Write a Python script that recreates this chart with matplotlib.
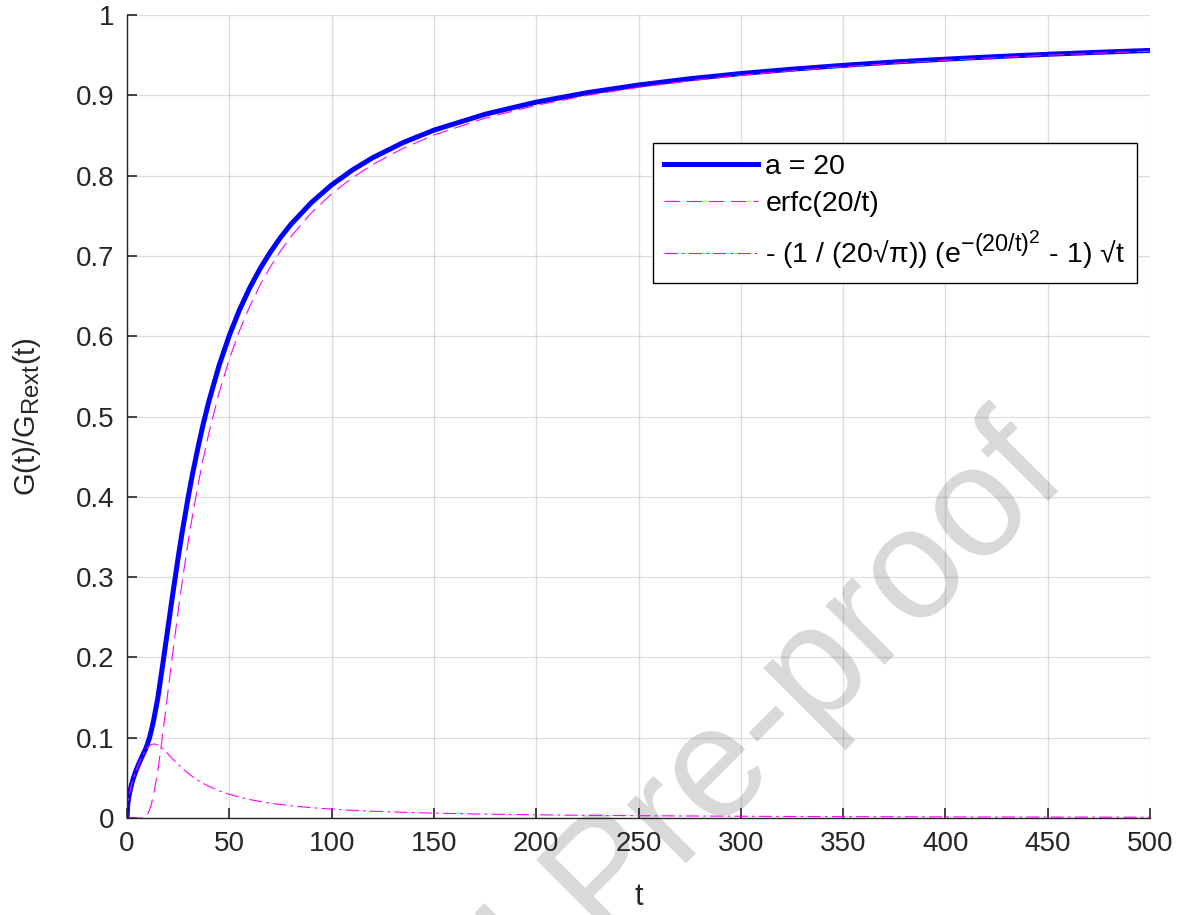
import matplotlib
matplotlib.use("Agg")

import matplotlib.pyplot as plt
import matplotlib._mathtext as mathtext_internals
from matplotlib.font_manager import FontProperties
from matplotlib.patches import PathPatch
from matplotlib.textpath import TextPath
from matplotlib.transforms import Affine2D

plt.rcParams['font.family'] = ['Liberation Sans', 'DejaVu Sans']
plt.rcParams['mathtext.fontset'] = 'custom'
plt.rcParams['mathtext.rm'] = 'Liberation Sans'
plt.rcParams['mathtext.it'] = 'Liberation Sans'
plt.rcParams['lines.scale_dashes'] = False
# MATLAB draws sub/superscripts larger than mathtext does
mathtext_internals.SHRINK_FACTOR = 0.82

# values
t = [0, 0.25, 0.5, 1, 2, 3, 4, 5, 6, 7,
     8, 9, 10, 11, 12, 13, 14, 15, 16, 17,
     18, 19, 20, 22, 25, 27, 30, 32, 35, 37,
     40, 45, 50, 55, 60, 65, 70, 75, 80, 90,
     100, 110, 120, 135, 150, 175, 200, 225, 250, 275,
     300, 325, 350, 375, 400, 425, 450, 475, 500]
g_a20 = [0, 0.0141, 0.0199, 0.0282, 0.0399, 0.0489, 0.0564, 0.0631, 0.0691, 0.0746,
         0.0802, 0.0855, 0.0923, 0.1002, 0.1102, 0.1218, 0.1354, 0.1488, 0.1663, 0.1834,
         0.2010, 0.2190, 0.2370, 0.2730, 0.3246, 0.3568, 0.4012, 0.4284, 0.4652, 0.4881,
         0.5190, 0.5636, 0.6011, 0.6330, 0.6604, 0.6840, 0.7046, 0.7229, 0.7390, 0.7662,
         0.7884, 0.8067, 0.8222, 0.8412, 0.8566, 0.8764, 0.8915, 0.9033, 0.9128, 0.9206,
         0.9271, 0.9325, 0.9373, 0.9415, 0.9450, 0.9482, 0.9511, 0.9536, 0.9559]
g_erfc = [0, 0, 0, 0, 0, 0, 0, 0, 0, 0,
          0.0004, 0.0015, 0.0047, 0.0101, 0.0186, 0.0296, 0.0436, 0.0580, 0.0771, 0.0962,
          0.1161, 0.1366, 0.1573, 0.1986, 0.2579, 0.2949, 0.3458, 0.3768, 0.4187, 0.4446,
          0.4795, 0.5297, 0.5716, 0.6071, 0.6374, 0.6635, 0.6861, 0.7061, 0.7237, 0.7533,
          0.7773, 0.7971, 0.8137, 0.8341, 0.8505, 0.8716, 0.8875, 0.9000, 0.9099, 0.9181,
          0.9249, 0.9306, 0.9356, 0.9399, 0.9436, 0.9469, 0.9499, 0.9525, 0.9549]
g_corr = [0, 0.0141, 0.0199, 0.0282, 0.0399, 0.0489, 0.0564, 0.0631, 0.0691, 0.0746,
          0.0798, 0.0840, 0.0876, 0.0901, 0.0916, 0.0922, 0.0918, 0.0908, 0.0892, 0.0872,
          0.0849, 0.0824, 0.0797, 0.0744, 0.0667, 0.0619, 0.0554, 0.0516, 0.0465, 0.0435,
          0.0395, 0.0339, 0.0295, 0.0259, 0.0230, 0.0205, 0.0185, 0.0168, 0.0153, 0.0129,
          0.0111, 0.0096, 0.0085, 0.0071, 0.0061, 0.0048, 0.0040, 0.0033, 0.0029, 0.0025,
          0.0022, 0.0019, 0.0017, 0.0016, 0.0014, 0.0013, 0.0012, 0.0011, 0.0010]

xticks = list(range(0, 501, 50))
yticks = [0, 0.1, 0.2, 0.3, 0.4, 0.5, 0.6, 0.7, 0.8, 0.9, 1]
ytick_labels = ['0', '0.1', '0.2', '0.3', '0.4', '0.5', '0.6', '0.7', '0.8', '0.9', '1']

labels = ['a = 20',
          'erfc(20/t)',
          r'- (1 / (20√π)) (e$^{\mathregular{-(20/t)}^{\mathregular{2}}}$ - 1) √t']

dark = '#262626'

fig = plt.figure(figsize=(11.84, 9.15), dpi=100)
ax = fig.add_axes([0.1073, 0.106, 0.8640, 0.8776])
ax.patch.set_alpha(0)

# watermark: rotated text outline behind the axes, placed in pixel coords
fp = FontProperties(family='Liberation Sans')
em = 158
wm = TextPath((0, 0), 'Journal Pre-proof', size=em, prop=fp)
w1 = TextPath((0, 0), 'Journal Pre', size=em, prop=fp).get_extents().x1
w2 = TextPath((0, 0), 'Journal Pre-', size=em, prop=fp).get_extents().x1
hx, hy = (w1 + w2) / 2 + 0.04 * em, 0.275 * em
tr = Affine2D().rotate_deg(45)
px, py = tr.transform((hx, hy))
tr.translate(765 - px, 192 - py)
fig.add_artist(PathPatch(wm, transform=tr, facecolor='#d9d9d9',
                         edgecolor='none', zorder=-1))

ax.plot(t, g_a20, color='#0000ff', lw=3.6, label=labels[0])
ax.plot(t, g_erfc, color='#ff00ff', lw=0.8, dashes=(11, 5), label=labels[1])
ax.plot(t, g_corr, color='#ff00ff', lw=0.8, dashes=(9.5, 3, 2, 3), label=labels[2])

ax.set_xlim(0, 500)
ax.set_ylim(0, 1)
ax.set_xticks(xticks)
ax.set_yticks(yticks)
ax.set_yticklabels(ytick_labels)

ax.grid(True, color=dark, alpha=0.15, lw=1.0)
ax.set_axisbelow(True)

for side in ['top', 'right']:
    ax.spines[side].set_visible(False)
for side in ['left', 'bottom']:
    ax.spines[side].set_color(dark)
    ax.spines[side].set_linewidth(1.0)

ax.tick_params(direction='in', length=7, width=1.2, colors=dark,
               labelsize=20, pad=9)

ax.set_xlabel('t', fontsize=22, color=dark, labelpad=18)
ax.set_ylabel(r'G(t)/G$_{\mathregular{Rext}}$(t)', fontsize=21, color=dark,
              labelpad=24)

leg = ax.legend(loc='upper right', bbox_to_anchor=(0.987, 0.841),
                fontsize=20.5, frameon=True, fancybox=False, framealpha=1,
                handlelength=3.3, borderpad=0.4, labelspacing=0.4,
                handletextpad=0.25, borderaxespad=0)
leg.get_frame().set_edgecolor('#000000')
leg.get_frame().set_linewidth(1.0)

fig.savefig('out.png', dpi=100)
